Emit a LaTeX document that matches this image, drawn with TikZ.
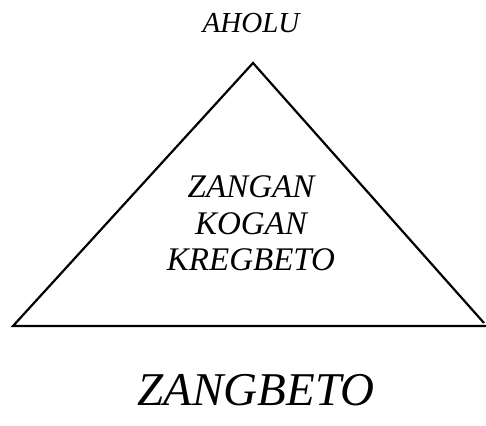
\documentclass[tikz,border=0pt]{standalone}
\usepackage{fontspec}
\setmainfont{Liberation Serif}
\begin{document}
\begin{tikzpicture}[x=1pt,y=-1pt,
  lbl/.style={inner sep=0pt,anchor=base},
  mid/.style={lbl,font=\itshape\fontsize{33}{38}\selectfont}]
\useasboundingbox (0,0) rectangle (486,425);
\coordinate (apex) at (253,63);
\coordinate (bl) at (13,326);
\coordinate (br) at (486,326);
\coordinate (brs) at (484,323);
\draw[line width=2.2pt,line join=miter] (br) -- (bl) -- (apex) -- (brs);
\node[lbl,font=\itshape\fontsize{29}{34}\selectfont] (top) at (251,33) {AHOLU};
\node[mid] (inner1) at (251,197) {ZANGAN};
\node[mid] (inner2) at (251,234) {KOGAN};
\node[mid] (inner3) at (251,270) {KREGBETO};
\node[lbl,font=\itshape\fontsize{47}{54}\selectfont] (bottom) at (256,405) {ZANGBETO};
\end{tikzpicture}
\end{document}
